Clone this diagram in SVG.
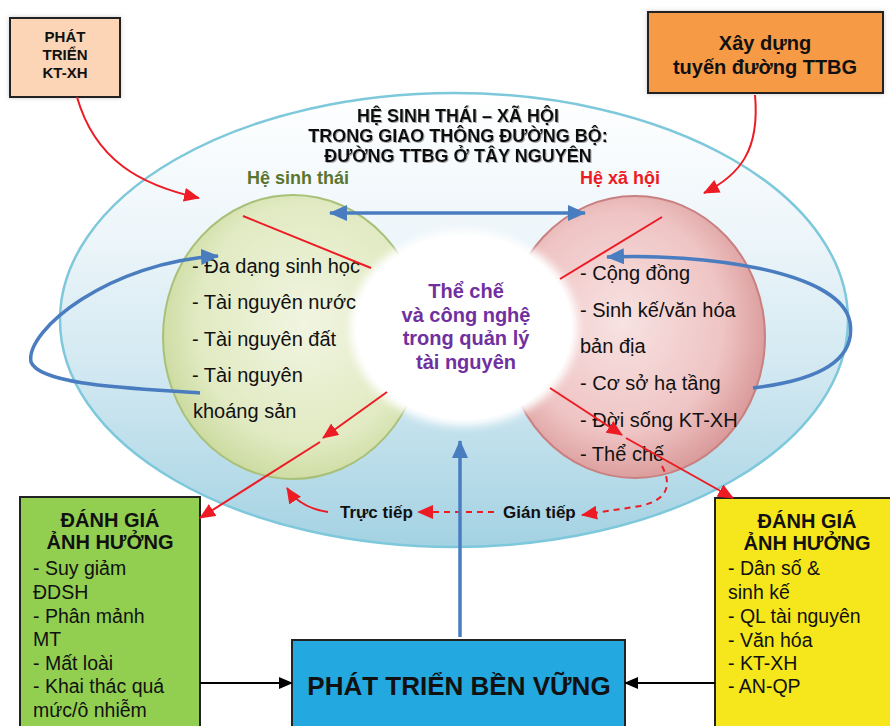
<svg xmlns="http://www.w3.org/2000/svg" width="890" height="726" viewBox="0 0 890 726">
<defs>
<linearGradient id="gBig" x1="0" y1="0" x2="0" y2="1">
<stop offset="0" stop-color="#ffffff"/>
<stop offset="0.3" stop-color="#eef6fa"/>
<stop offset="0.6" stop-color="#d3e9f2"/>
<stop offset="1" stop-color="#a4d2e3"/>
</linearGradient>
<radialGradient id="gGreen" cx="0.55" cy="0.45" r="0.6">
<stop offset="0" stop-color="#f1f5e1"/>
<stop offset="0.7" stop-color="#e1eac2"/>
<stop offset="1" stop-color="#c8d89a"/>
</radialGradient>
<radialGradient id="gRed" cx="0.45" cy="0.45" r="0.6">
<stop offset="0" stop-color="#f8e2e2"/>
<stop offset="0.65" stop-color="#efc4c4"/>
<stop offset="1" stop-color="#d69292"/>
</radialGradient>
<filter id="blur" x="-20%" y="-20%" width="140%" height="140%"><feGaussianBlur stdDeviation="4"/></filter>
<filter id="tshadow" x="-5%" y="-20%" width="110%" height="140%"><feDropShadow dx="1" dy="1" stdDeviation="0.6" flood-color="#888" flood-opacity="0.7"/></filter>
<filter id="bshadow" x="-10%" y="-10%" width="120%" height="120%"><feDropShadow dx="0" dy="0" stdDeviation="2" flood-color="#999" flood-opacity="0.5"/></filter>
<marker id="ar" markerUnits="userSpaceOnUse" markerWidth="16" markerHeight="14" refX="15" refY="7" orient="auto"><path d="M0,0 L16,7 L0,14 z" fill="#ed1c24"/></marker>
<marker id="ab" markerUnits="userSpaceOnUse" markerWidth="18" markerHeight="16" refX="17" refY="8" orient="auto-start-reverse"><path d="M0,0 L18,8 L0,16 z" fill="#4a7cc0"/></marker>
<marker id="ak" markerUnits="userSpaceOnUse" markerWidth="14" markerHeight="12" refX="13" refY="6" orient="auto"><path d="M0,0 L14,6 L0,12 z" fill="#000"/></marker>
</defs>
<style>
text{font-family:"Liberation Sans",Arial,sans-serif;fill:#111}
.b{font-weight:bold}
.box{stroke:#222;stroke-width:2}
.red{fill:none;stroke:#ed1c24;stroke-width:2}
.blue{fill:none;stroke:#4a7cc0;stroke-width:3.5}
.blk{fill:none;stroke:#000;stroke-width:2}
.li{font-size:20px}
.bl{font-size:19.5px}
.hd{font-size:20px;font-weight:bold}
.c{text-anchor:middle}
</style>
<rect width="890" height="726" fill="#fff"/>

<g id="ecosystem">
<ellipse cx="454" cy="320" rx="394" ry="227" fill="url(#gBig)" stroke="#7ec8dc" stroke-width="2.5"/>
</g>
<g id="he-sinh-thai">
<ellipse cx="293" cy="337" rx="130" ry="142" fill="url(#gGreen)" stroke="#a9c078" stroke-width="2"/>
</g>
<g id="he-xa-hoi">
<ellipse cx="635" cy="337" rx="130" ry="141" fill="url(#gRed)" stroke="#c98080" stroke-width="2"/>
</g>
<g id="the-che">
<ellipse cx="464" cy="328" rx="114" ry="98" fill="#fff" filter="url(#blur)"/>
<ellipse cx="464" cy="328" rx="108" ry="92" fill="#fff"/>
<text class="b c" x="466" y="298" font-size="20" style="fill:#7030a0">Thể chế</text>
<text class="b c" x="466" y="322" font-size="20" style="fill:#7030a0">và công nghệ</text>
<text class="b c" x="466" y="345" font-size="20" style="fill:#7030a0">trong quản lý</text>
<text class="b c" x="466" y="369" font-size="20" style="fill:#7030a0">tài nguyên</text>
</g>

<g id="title" filter="url(#tshadow)">
<text class="b c" x="458" y="122" font-size="18">HỆ SINH THÁI – XÃ HỘI</text>
<text class="b c" x="458" y="142" font-size="18">TRONG GIAO THÔNG ĐƯỜNG BỘ:</text>
<text class="b c" x="458" y="162" font-size="18">ĐƯỜNG TTBG Ở TÂY NGUYÊN</text>
</g>

<g id="label-sinh-thai"><text class="b" x="247" y="184" font-size="18" style="fill:#5a7530">Hệ sinh thái</text></g>
<g id="label-xa-hoi"><text class="b" x="580" y="184" font-size="18" style="fill:#ed1c24">Hệ xã hội</text></g>

<g id="list-sinh-thai">
<text class="li" x="192" y="273">- Đa dạng sinh học</text>
<text class="li" x="192" y="309">- Tài nguyên nước</text>
<text class="li" x="192" y="346">- Tài nguyên đất</text>
<text class="li" x="192" y="382">- Tài nguyên</text>
<text class="li" x="193" y="418">khoáng sản</text>
</g>
<g id="list-xa-hoi">
<text class="li" x="580" y="280">- Cộng đồng</text>
<text class="li" x="580" y="317">- Sinh kế/văn hóa</text>
<text class="li" x="580" y="353">bản địa</text>
<text class="li" x="580" y="390">- Cơ sở hạ tầng</text>
<text class="li" x="580" y="427">- Đời sống KT-XH</text>
<text class="li" x="580" y="461">- Thể chế</text>
</g>

<g id="phat-trien-ktxh">
<rect x="10" y="18" width="110" height="79" fill="#fbd5b5" class="box" filter="url(#bshadow)"/>
<text class="b c" x="65" y="42" font-size="15">PHÁT</text>
<text class="b c" x="65" y="60" font-size="15">TRIỂN</text>
<text class="b c" x="65" y="78" font-size="15">KT-XH</text>
</g>
<g id="xay-dung">
<rect x="648" y="12" width="235" height="81" fill="#f79a45" class="box" filter="url(#bshadow)"/>
<text class="b c" x="765" y="50" font-size="20">Xây dựng</text>
<text class="b c" x="765" y="74" font-size="20">tuyến đường TTBG</text>
</g>
<g id="danh-gia-sinh-thai">
<rect x="20" y="497" width="180" height="240" fill="#92cf50" class="box"/>
<text class="hd c" x="110" y="527">ĐÁNH GIÁ</text>
<text class="hd c" x="110" y="549">ẢNH HƯỞNG</text>
<text class="bl" x="33" y="575">- Suy giảm</text>
<text class="bl" x="33" y="599">ĐDSH</text>
<text class="bl" x="33" y="623">- Phân mảnh</text>
<text class="bl" x="33" y="646">MT</text>
<text class="bl" x="33" y="670">- Mất loài</text>
<text class="bl" x="33" y="693">- Khai thác quá</text>
<text class="bl" x="33" y="717">mức/ô nhiễm</text>
</g>
<g id="danh-gia-xa-hoi">
<rect x="715" y="498" width="185" height="240" fill="#f5e71c" class="box"/>
<text class="hd c" x="807" y="528">ĐÁNH GIÁ</text>
<text class="hd c" x="807" y="550">ẢNH HƯỞNG</text>
<text class="bl" x="728" y="575">- Dân số &amp;</text>
<text class="bl" x="728" y="599">sinh kế</text>
<text class="bl" x="728" y="623">- QL tài nguyên</text>
<text class="bl" x="728" y="647">- Văn hóa</text>
<text class="bl" x="728" y="670">- KT-XH</text>
<text class="bl" x="728" y="693">- AN-QP</text>
</g>
<g id="phat-trien-ben-vung">
<rect x="292" y="640" width="333" height="100" fill="#23a8e0" class="box"/>
<text class="b c" x="459" y="695" font-size="26">PHÁT TRIỂN BỀN VỮNG</text>
</g>
<g id="labels-tac-dong">
<text class="b" x="340" y="518" font-size="17">Trực tiếp</text>
<text class="b" x="503" y="518" font-size="17">Gián tiếp</text>
</g>

<g id="connectors">
<path class="red" d="M77,97 C95,160 140,185 199,198" marker-end="url(#ar)"/>
<path class="red" d="M755,95 C760,150 740,175 704,193" marker-end="url(#ar)"/>
<line class="red" x1="243" y1="216" x2="371" y2="268"/>
<line class="red" x1="662" y1="217" x2="560" y2="279"/>
<line class="red" x1="387" y1="392" x2="323" y2="438" marker-end="url(#ar)"/>
<line class="red" x1="320" y1="442" x2="200" y2="518" marker-end="url(#ar)"/>
<line class="red" x1="550" y1="388" x2="622" y2="435" marker-end="url(#ar)"/>
<line class="red" x1="626" y1="438" x2="733" y2="498" marker-end="url(#ar)"/>
<path class="red" d="M328,512 Q300,508 287,488" marker-end="url(#ar)"/>
<path class="red" d="M494,512 L418,512" stroke-dasharray="6,5" marker-end="url(#ar)"/>
<path class="red" d="M662,466 C672,485 668,500 640,506 L582,515" stroke-dasharray="6,5" marker-end="url(#ar)"/>
<line class="blue" x1="330" y1="213" x2="585" y2="213" marker-start="url(#ab)" marker-end="url(#ab)"/>
<path class="blue" d="M200,393 C130,388 40,385 31,362 C25,330 110,262 218,256" marker-end="url(#ab)"/>
<path class="blue" d="M753,388 C820,380 856,360 850,322 C840,270 700,253 607,257" marker-end="url(#ab)"/>
<line class="blue" x1="460" y1="637" x2="460" y2="441" stroke-width="4" marker-end="url(#ab)"/>
<line class="blk" x1="200" y1="683" x2="292" y2="683" marker-end="url(#ak)"/>
<line class="blk" x1="715" y1="683" x2="625" y2="683" marker-end="url(#ak)"/>
</g>
</svg>
